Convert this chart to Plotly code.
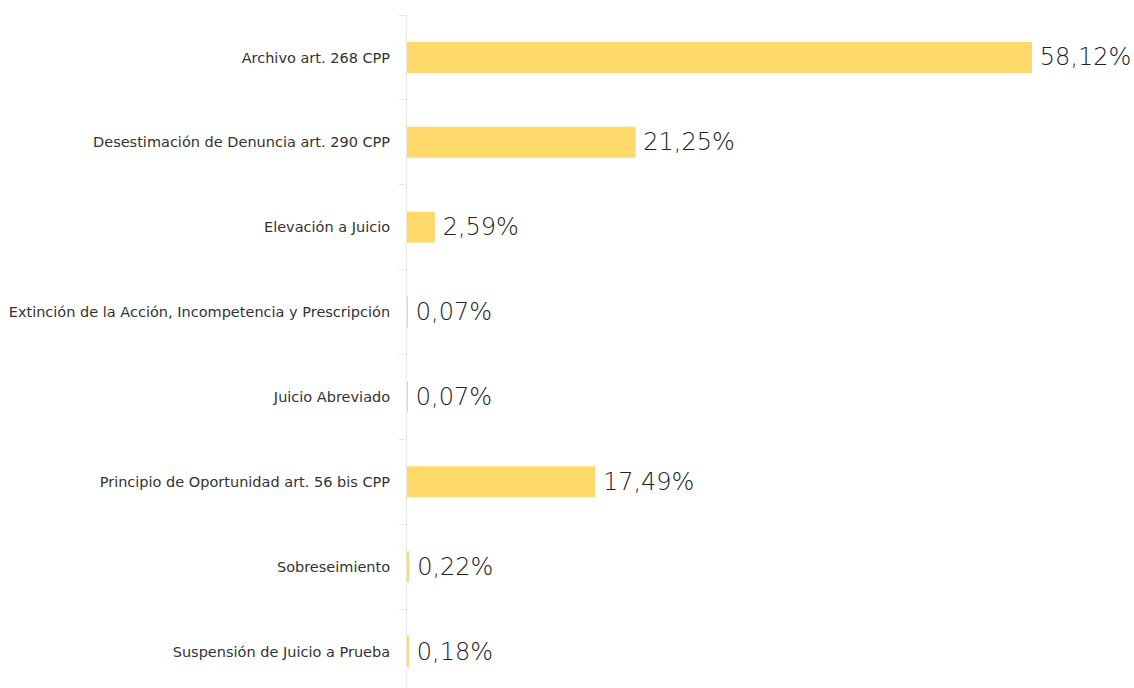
import plotly.graph_objects as go

categories = [
    "Archivo art. 268 CPP",
    "Desestimación de Denuncia art. 290 CPP",
    "Elevación a Juicio",
    "Extinción de la Acción, Incompetencia y Prescripción",
    "Juicio Abreviado",
    "Principio de Oportunidad art. 56 bis CPP",
    "Sobreseimiento",
    "Suspensión de Juicio a Prueba",
]
values = [58.12, 21.25, 2.59, 0.07, 0.07, 17.49, 0.22, 0.18]
value_labels = ["58,12%", "21,25%", "2,59%", "0,07%", "0,07%", "17,49%", "0,22%", "0,18%"]

fig = go.Figure(go.Bar(
    x=values,
    y=categories,
    orientation="h",
    marker=dict(color="#FFDA6A", line=dict(width=0)),
    text=["\u2009" + t for t in value_labels],
    textposition="outside",
    cliponaxis=False,
    textfont=dict(family="DejaVu Sans, sans-serif", size=24, color="#222222", weight=300),
    hoverinfo="skip",
))

fig.update_layout(
    width=1134,
    height=694,
    margin=dict(l=407, r=0, t=15, b=0),
    paper_bgcolor="white",
    plot_bgcolor="white",
    bargap=0.635,
    showlegend=False,
    hovermode=False,
    xaxis=dict(range=[0, 67.6], visible=False, fixedrange=True),
    yaxis=dict(
        autorange="reversed",
        type="category",
        showgrid=False,
        showline=True,
        linecolor="#E6E6E6",
        linewidth=1,
        ticks="outside",
        tickson="boundaries",
        ticklen=7,
        tickcolor="#E6E6E6",
        tickfont=dict(family="DejaVu Sans, sans-serif", size=14.5, color="#333333"),
        ticklabelstandoff=13,
        zeroline=False,
        fixedrange=True,
    ),
)

fig.write_html(
    "out.html",
    config={"displayModeBar": False},
    post_script="document.body.style.margin='0';document.body.style.overflow='hidden';",
)
